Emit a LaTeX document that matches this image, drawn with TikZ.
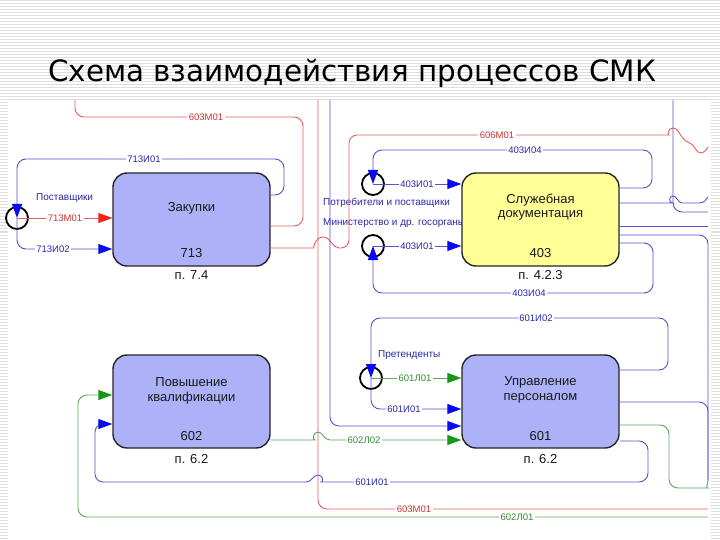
\documentclass[tikz,border=0pt]{standalone}
\usepackage{fontspec}
\setmainfont{Liberation Sans}
\newfontfamily\titlefont{DejaVu Sans}
\usetikzlibrary{arrows.meta}
\definecolor{lb}{RGB}{85,85,205}
\definecolor{lbt}{RGB}{40,40,170}
\definecolor{lr}{RGB}{228,95,95}
\definecolor{lrt}{RGB}{210,50,50}
\definecolor{lg}{RGB}{95,165,95}
\definecolor{lgt}{RGB}{50,140,50}
\definecolor{ab}{RGB}{10,10,240}
\definecolor{ar}{RGB}{250,30,30}
\definecolor{ag}{RGB}{25,150,25}
\definecolor{lav}{RGB}{172,177,248}
\definecolor{yel}{RGB}{255,255,150}
\definecolor{stripe}{RGB}{222,222,222}
\tikzset{
  proc/.style={draw=black!85, line width=1.4pt, rounded corners=14pt, minimum width=157pt, minimum height=93pt, inner sep=0pt},
  btxt/.style={font=\fontsize{13}{15}\selectfont, text=black!90, inner sep=0pt},
  ext/.style={circle, draw=black, line width=1.8pt, minimum size=22pt, inner sep=0pt},
  cb/.style={draw=lb, line width=0.9pt, rounded corners=9pt},
  cr/.style={draw=lr, line width=0.9pt, rounded corners=9pt},
  cg/.style={draw=lg, line width=0.9pt, rounded corners=9pt},
  tipb/.style={-{Triangle[length=14pt,width=10pt,color=ab]}},
  tipr/.style={-{Triangle[length=14pt,width=10pt,color=ar]}},
  tipg/.style={-{Triangle[length=14pt,width=10pt,color=ag]}},
  lbl/.style={fill=white, inner sep=1.5pt, font=\fontsize{9.5}{11}\selectfont},
  lblb/.style={lbl, text=lbt},
  lblr/.style={lbl, text=lrt},
  lblg/.style={lbl, text=lgt},
  src/.style={anchor=west, inner sep=0pt, text=lbt, font=\fontsize{10}{12}\selectfont},
}
\begin{document}
\begin{tikzpicture}[x=1pt, y=-1pt]
\useasboundingbox (0,0) rectangle (720,540);
% background stripes
\fill[white] (0,0) rectangle (720,540);
\foreach \yy in {1,4,...,540} { \draw[stripe, line width=1pt] (0,\yy) -- (720,\yy); }
\fill[white] (8,100) rectangle (711,540);
% title
\node[font=\titlefont\fontsize{29.4}{33}\selectfont, anchor=base, inner sep=0pt] (title) at (352,82) {Схема взаимодействия процессов СМК};
% source texts
\node[src] (s1) at (36,198) {Поставщики};
\node[src] (s2) at (323,203) {Потребители и поставщики};
\node[src] (s3) at (323,223) {Министерство и др. госорганы};
\node[src] (s4) at (378,355) {Претенденты};
% boxes
\node[proc, fill=lav] (zak) at (191.5,219.5) {};
\node[proc, fill=yel] (slu) at (540.5,219.5) {};
\node[proc, fill=lav] (pov) at (191.5,401.5) {};
\node[proc, fill=lav] (upr) at (540.5,401.5) {};
\node[btxt] (zak1) at (191.5,208) {Закупки};
\node[btxt] (zak2) at (191.5,253) {713};
\node[btxt] (zak3) at (191.5,275) {п. 7.4};
\node[btxt] (slu1) at (540.5,200) {Служебная};
\node[btxt] (slu2) at (540.5,215) {документация};
\node[btxt] (slu3) at (540.5,253) {403};
\node[btxt] (slu4) at (540.5,275) {п. 4.2.3};
\node[btxt] (pov1) at (191.5,382) {Повышение};
\node[btxt] (pov2) at (191.5,398) {квалификации};
\node[btxt] (pov3) at (191.5,436) {602};
\node[btxt] (pov4) at (191.5,459) {п. 6.2};
\node[btxt] (upr1) at (540.5,382) {Управление};
\node[btxt] (upr2) at (540.5,398) {персоналом};
\node[btxt] (upr3) at (540.5,436) {601};
\node[btxt] (upr4) at (540.5,459) {п. 6.2};
% external circles
\node[ext] (c1) at (17,218) {};
\node[ext] (c2) at (373,184) {};
\node[ext] (c3) at (373,246) {};
\node[ext] (c4) at (371,378) {};
% free ends
\coordinate (t603) at (75,100);
\coordinate (t318) at (318,100);
\coordinate (t330) at (330,100);
\coordinate (t673) at (673,100);
\coordinate (r606) at (708,147);
\coordinate (r203) at (708,197);
\coordinate (r212) at (708,212);
\coordinate (r226) at (708,226);
\coordinate (rv) at (708,480);
\coordinate (r509) at (708,509);
\coordinate (r517) at (708,517);
% --- Закупки
\draw[cr, tipr] (c1.center) -- (zak.west |- c1);
\draw[cb, tipb] (c1.center) |- (zak.west |- 0,249);
\draw[cb, tipb] (zak.east |- 0,195) -- (284,195) |- (17,159) -- (c1.center);
\draw[cr] (t603) |- (303,117) |- (zak.east |- 0,226);
\draw[cr] (zak.east |- 0,248) -- (305,248) [sharp corners] .. controls (313,248) and (315,237) .. (323,237) .. controls (331,237) and (332,248) .. (339,248) [rounded corners=8pt] -- (349,248) -- (349,135) -- (661,135) [sharp corners] .. controls (667,135) and (668,128) .. (673,128) .. controls (679,128) and (681,140) .. (688,142) .. controls (695,144) and (696,154) .. (701,153) .. controls (705,152) and (707,149) .. (r606);
% long verticals
\draw[cr] (t318) |- (r509);
\draw[cb, tipb] (t330) |- (upr.west |- 0,426);
% --- Служебная документация
\draw[cb, tipb] (c2.center) -- (slu.west |- c2);
\draw[cb, tipb] (slu.east |- 0,188) -- (652,188) |- (373,150) -- (c2.center);
\draw[cb, tipb] (c3.center) -- (slu.west |- c3);
\draw[cb, tipb] (slu.east |- 0,243) -- (653,243) |- (373,293) -- (c3.center);
\draw[cb] (slu.east |- 0,203) -- (664,203) [sharp corners] .. controls (668,203) and (669,196) .. (673,196) .. controls (677,196) and (678,203) .. (682,203) -- (699,203) .. controls (704,203) and (706,200) .. (r203);
\draw[cb] (t673) |- (r212);
\draw[cb] (slu.east |- 0,226) -- (r226);
\draw[cb] (slu.east |- 0,235) -| (rv);
% --- Управление персоналом
\draw[cg, tipg] (c4.center) -- (upr.west |- c4);
\draw[cb, tipb] (c4.center) |- (upr.west |- 0,409);
\draw[cb, tipb] (upr.east |- 0,370) -- (668,370) |- (371,318) -- (c4.center);
\draw[cb] (upr.east |- 0,402) -| (rv);
\draw[cg] (upr.east |- 0,425) -- (669,425) |- (699,488) [sharp corners] .. controls (705,488) and (708,485) .. (rv);
\draw[cg, tipg] (pov.east |- 0,440) -- (306,440) [sharp corners] .. controls (312,440) and (313,432) .. (318,432) .. controls (323,432) and (324,440) .. (330,440) -- (upr.west |- 0,440);
\draw[cb, tipb] (upr.east |- 0,441) -- (648,441) |- (330,482) [sharp corners] .. controls (324,482) and (323,475) .. (318,475) .. controls (313,475) and (312,482) .. (306,482) [rounded corners=8pt] -- (95,482) -- (95,424) -- (pov.west |- 0,424);
\draw[cg, tipg] (r517) -- (78,517) -- (78,395) -- (pov.west |- 0,395);
% --- labels
\node[lblr] (l1) at (65,218) {713М01};
\node[lblb] (l2) at (53,249) {713И02};
\node[lblb] (l3) at (144,159) {713И01};
\node[lblr] (l4) at (206,117) {603М01};
\node[lblr] (l5) at (497,135) {606М01};
\node[lblb] (l6) at (525,150) {403И04};
\node[lblb] (l7) at (417,184) {403И01};
\node[lblb] (l8) at (417,246) {403И01};
\node[lblb] (l9) at (529,293) {403И04};
\node[lblb] (l10) at (536,318) {601И02};
\node[lblg] (l11) at (415,378) {601Л01};
\node[lblb] (l12) at (404,409) {601И01};
\node[lblg] (l13) at (364,440) {602Л02};
\node[lblb] (l14) at (372,482) {601И01};
\node[lblr] (l15) at (414,509) {603М01};
\node[lblg] (l16) at (517,517) {602Л01};
\end{tikzpicture}
\end{document}
